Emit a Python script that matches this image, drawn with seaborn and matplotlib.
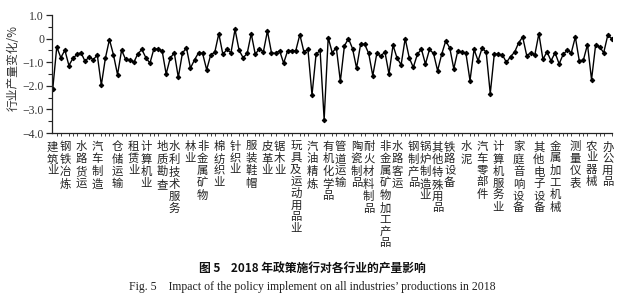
import numpy as np
import pandas as pd
import matplotlib
matplotlib.use("Agg")
import matplotlib.pyplot as plt
from matplotlib.ticker import MultipleLocator, FixedLocator
import seaborn as sns

# ---- data ----
values = [
    -2.15, -0.35, -0.81, -0.49, -1.14, -0.83, -0.67, -0.60, -0.97, -0.76,
    -0.90, -0.69, -1.97, -0.83, -0.04, -0.69, -1.53, -0.49, -0.88, -0.90,
    -1.01, -0.65, -0.46, -0.81, -1.04, -0.42, -0.46, -0.51, -1.50, -0.83,
    -0.60, -1.64, -0.63, -0.38, -1.25, -0.90, -0.60, -0.63, -1.32, -0.69,
    -0.58, 0.21, -0.67, -0.46, -0.60, 0.39, -0.49, -0.81, -0.63, 0.21,
    -0.67, -0.42, -0.56, 0.32, -0.60, -0.63, -0.51, -1.04, -0.51, -0.51,
    -0.51, 0.17, -0.56, -0.46, -2.39, -0.67, -0.49, -3.43, 0.04, -0.60,
    -0.38, -1.81, -0.31, 0.00, -0.42, -1.25, -0.24, -0.24, -0.63, -1.57,
    -0.63, -0.74, -0.56, -1.50, -0.28, -0.83, -1.11, 0.00, -0.81, -1.22,
    -0.67, -0.44, -1.08, -0.46, -0.63, -1.36, -0.67, -0.10, -0.39, -1.28,
    -0.51, -0.58, -0.63, -1.78, -0.46, -0.94, -0.39, -0.58, -2.33, -0.65,
    -0.67, -0.69, -1.01, -0.76, -0.58, -0.18, 0.07, -0.72, -0.60, -0.69,
    0.21, -0.88, -0.56, -0.94, -0.60, -1.07, -0.67, -0.49, -0.60, 0.07,
    -0.97, -0.90, -0.25, -1.74, -0.28, -0.35, -0.60, 0.14, 0.00,
]
industry_index = list(range(len(values)))

label_positions = [0, 3, 7, 11, 16, 20, 23, 27, 30, 34, 37, 41, 45, 49, 53, 56,
                   60, 64, 68, 71, 75, 78, 82, 85, 89, 92, 95, 98, 102, 106,
                   110, 115, 120, 124, 129, 133, 137]
label_names = ["建筑业", "钢铁冶炼", "水路货运", "汽车制造", "仓储运输", "租赁业",
               "计算机业", "地质勘查", "水利技术服务", "林业", "非金属矿物",
               "棉纺织业", "针织业", "服装鞋帽", "皮革业", "锯木业",
               "玩具及运动用品业", "汽油精炼", "有机化学品", "管道运输", "陶瓷制品",
               "耐火材料制品", "非金属矿物加工产品", "水路客运", "钢制产品",
               "锅炉制造业", "其他特殊用品", "铁路设备", "水泥", "汽车零部件",
               "计算机服务业", "家庭音响设备", "其他电子设备", "金属加工机械",
               "测量仪表", "农业器械", "办公用品"]
y_ticks = [1.0, 0.0, -1.0, -2.0, -3.0, -4.0]
y_tick_labels = ["1.0", "0", "−1.0", "−2.0", "−3.0", "−4.0"]

df = pd.DataFrame({"idx": industry_index, "change": values})

# ---- style ----
sns.set_theme(style="ticks")
plt.rcParams["font.family"] = ["Noto Sans CJK SC", "DejaVu Sans"]
serif = ["Liberation Serif", "DejaVu Serif"]
cjk = ["Noto Sans CJK SC", "DejaVu Sans"]

fig = plt.figure(figsize=(6.2, 2.98), dpi=100)
ax = fig.add_axes([51.7 / 620, 165 / 298, (612 - 51.7) / 620, (133 - 15) / 298])

sns.lineplot(data=df, x="idx", y="change", ax=ax, color="black",
             linewidth=1.0, marker="D", markersize=2.3,
             markeredgecolor="black", markerfacecolor="black")

ax.set_xlim(-0.25, len(values) - 1 + 0.05)
ax.set_ylim(-4.0, 1.0)

for s in ["top", "right"]:
    ax.spines[s].set_visible(False)
for s in ["left", "bottom"]:
    ax.spines[s].set_linewidth(0.9)
    ax.spines[s].set_color("#222222")

ax.set_yticks(y_ticks)
ax.set_yticklabels(y_tick_labels, fontfamily=serif, fontsize=8.5, color="#333333")
ax.yaxis.set_minor_locator(MultipleLocator(0.5))
ax.tick_params(axis="y", which="major", direction="out", length=4, width=0.9, pad=1.5)
ax.tick_params(axis="y", which="minor", direction="out", length=3, width=0.8)

ax.set_xticks(label_positions)
ax.set_xticklabels(["\n".join(n) for n in label_names], fontfamily=cjk,
                   fontsize=8.2, linespacing=1.18, color="#222222")
ax.xaxis.set_minor_locator(FixedLocator(industry_index))
ax.tick_params(axis="x", which="major", length=0, pad=6)
ax.tick_params(axis="x", which="minor", direction="out", length=2.5, width=0.6)

ax.set_xlabel("")
ax.set_ylabel("")
fig.text(13 / 620, 1 - 68 / 298, "行业产量变化/%", rotation=90, ha="center",
         va="center", fontfamily=cjk, fontsize=8.5, color="#333333")

fig.text(312 / 620, 1 - 269 / 298, "图 5    2018 年政策施行对各行业的产量影响",
         ha="center", va="center", fontfamily=cjk, fontsize=8.5,
         fontweight="bold", color="#111111")
fig.text(312 / 620, 1 - 287 / 298,
         "Fig. 5    Impact of the policy implement on all industries’ productions in 2018",
         ha="center", va="center", fontfamily=serif, fontsize=8.5, color="#222222")

fig.savefig("out.png", dpi=100)
